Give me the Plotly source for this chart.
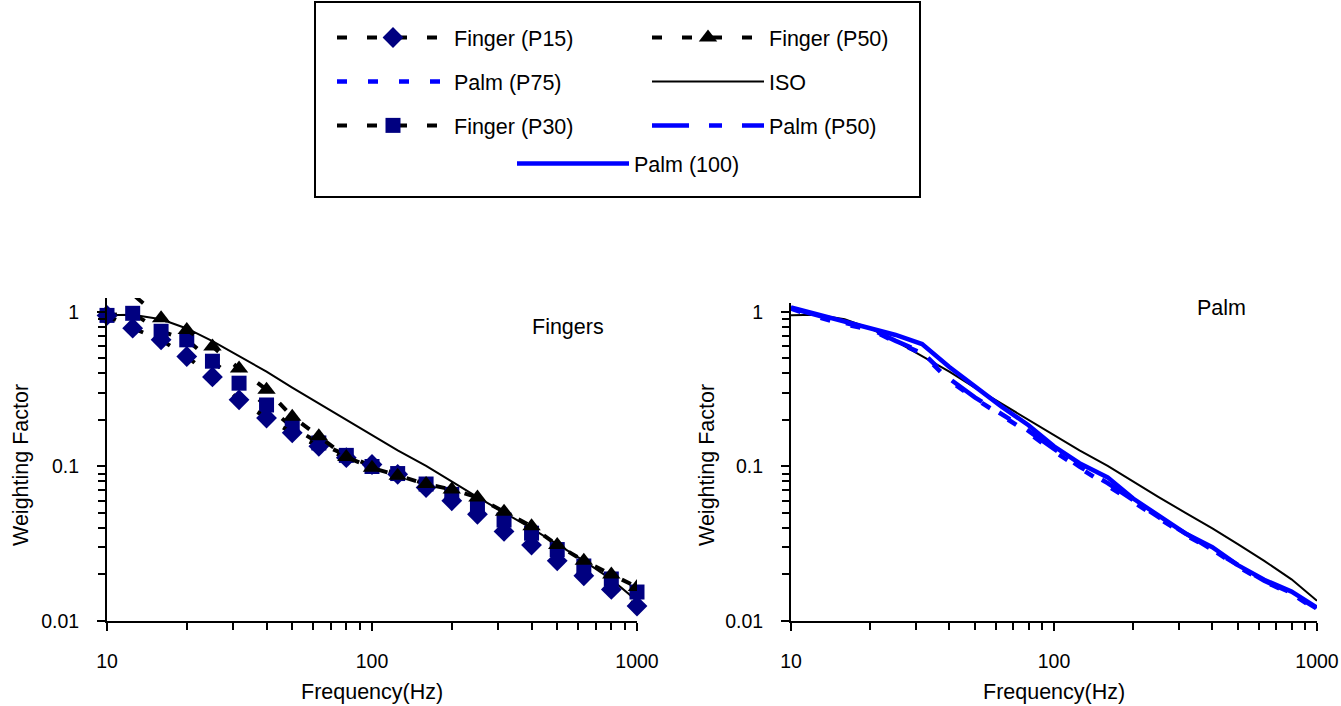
import plotly.graph_objects as go

# ---------------- data ----------------
freqs = [10, 12.5, 16, 20, 25, 31.5, 40, 50, 63, 80, 100, 125, 160, 200, 250, 315, 400, 500, 630, 800, 1000]

iso = [0.951, 0.958, 0.896, 0.782, 0.647, 0.519, 0.411, 0.324, 0.256, 0.202, 0.160,
       0.127, 0.101, 0.0799, 0.0634, 0.0503, 0.0398, 0.0314, 0.0245, 0.0186, 0.0135]

finger_p15 = [0.95, 0.785, 0.66, 0.515, 0.38, 0.27, 0.206, 0.165, 0.135, 0.114, 0.103,
              0.089, 0.073, 0.060, 0.049, 0.038, 0.031, 0.0245, 0.0196, 0.016, 0.0125]
finger_p30 = [0.95, 0.98, 0.75, 0.66, 0.48, 0.346, 0.25, 0.18, 0.142, 0.118, 0.100,
              0.090, 0.077, 0.066, 0.055, 0.045, 0.037, 0.029, 0.0227, 0.0187, 0.0154]
finger_p50 = [1.40, 1.30, 0.91, 0.765, 0.597, 0.43, 0.314, 0.21, 0.157, 0.115, 0.098,
              0.087, 0.077, 0.071, 0.063, 0.051, 0.041, 0.031, 0.0245, 0.020, 0.0166]

palm_p75 = [1.05, 0.93, 0.83, 0.77, 0.64, 0.54, 0.36, 0.275, 0.215, 0.165, 0.125,
            0.098, 0.074, 0.059, 0.046, 0.036, 0.029, 0.0225, 0.018, 0.015, 0.0118]
palm_p50 = [1.06, 0.95, 0.85, 0.78, 0.65, 0.55, 0.37, 0.28, 0.22, 0.17, 0.13,
            0.100, 0.078, 0.060, 0.047, 0.037, 0.029, 0.023, 0.0182, 0.0152, 0.0120]
palm_100 = [1.07, 0.97, 0.87, 0.79, 0.71, 0.62, 0.44, 0.33, 0.245, 0.185, 0.135,
            0.105, 0.085, 0.062, 0.048, 0.037, 0.030, 0.023, 0.0185, 0.0155, 0.0122]

x_ticks = [10, 100, 1000]
x_ticktext = ["10", "100", "1000"]
y_ticks = [0.01, 0.1, 1]
y_ticktext = ["0.01", "0.1", "1"]
x_minor = [20, 30, 40, 50, 60, 70, 80, 90, 200, 300, 400, 500, 600, 700, 800, 900]
y_minor = [0.02, 0.03, 0.04, 0.05, 0.06, 0.07, 0.08, 0.09, 0.2, 0.3, 0.4, 0.5, 0.6, 0.7, 0.8, 0.9]

# ---------------- layout helpers ----------------
W, H = 1341, 706
FONT = "Liberation Sans, Arial, Helvetica, sans-serif"
NAVY = "#000080"
BLUE = "#0000FF"


def px(x):
    return x / W


def py(y):
    return 1 - y / H


fig = go.Figure()

# ---- left panel (fingers) ----
fig.add_trace(go.Scatter(x=freqs, y=iso, mode="lines", name="ISO", legend="legend2",
                         legendgroup="iso", legendrank=2, showlegend=True,
                         line=dict(color="black", width=2), xaxis="x", yaxis="y"))
fig.add_trace(go.Scatter(x=freqs, y=finger_p30, mode="lines+markers", name="Finger (P30)",
                         legend="legend", legendgroup="p30", legendrank=3,
                         line=dict(color="black", width=4, dash="10px,20px"),
                         marker=dict(symbol="square", size=15, color=NAVY),
                         cliponaxis=False, xaxis="x", yaxis="y"))
fig.add_trace(go.Scatter(x=freqs, y=finger_p15, mode="lines+markers", name="Finger (P15)",
                         legend="legend", legendgroup="p15", legendrank=1,
                         line=dict(color="black", width=4, dash="10px,20px"),
                         marker=dict(symbol="diamond", size=16, color=NAVY),
                         cliponaxis=False, xaxis="x", yaxis="y"))
fig.add_trace(go.Scatter(x=freqs, y=finger_p50, mode="lines+markers", name="Finger (P50)",
                         legend="legend2", legendgroup="p50", legendrank=1,
                         line=dict(color="black", width=4, dash="10px,20px"),
                         marker=dict(symbol="triangle-up", size=16, color="black"),
                         cliponaxis=True, xaxis="x", yaxis="y"))

# ---- right panel (palm) ----
fig.add_trace(go.Scatter(x=freqs, y=iso, mode="lines", name="ISO", showlegend=False,
                         line=dict(color="black", width=2), xaxis="x2", yaxis="y2"))
fig.add_trace(go.Scatter(x=freqs, y=palm_p75, mode="lines", name="Palm (P75)",
                         legend="legend", legendgroup="pp75", legendrank=2,
                         line=dict(color=BLUE, width=4.5, dash="10px,21px"),
                         xaxis="x2", yaxis="y2"))
fig.add_trace(go.Scatter(x=freqs, y=palm_p50, mode="lines", name="Palm (P50)",
                         legend="legend2", legendgroup="pp50", legendrank=3,
                         line=dict(color=BLUE, width=4.5, dash="37px,20px,13px,20px"),
                         xaxis="x2", yaxis="y2"))
fig.add_trace(go.Scatter(x=freqs, y=palm_100, mode="lines", name="Palm (100)",
                         legend="legend3", legendgroup="pp100",
                         line=dict(color=BLUE, width=4.5),
                         xaxis="x2", yaxis="y2"))

axis_common = dict(type="log", showline=True, linecolor="black", linewidth=2,
                   showgrid=False, zeroline=False, ticks="outside", ticklen=8,
                   tickwidth=1.5, tickcolor="black", automargin=False,
                   tickfont=dict(family=FONT, size=19.5, color="black"))

xcommon = dict(axis_common, range=[1, 3], tickvals=x_ticks, ticktext=x_ticktext,
               ticklabelstandoff=14,
               minor=dict(tickvals=x_minor, ticks="outside", ticklen=7, tickwidth=1.5,
                          tickcolor="black", showgrid=False))
ycommon = dict(axis_common, tickvals=y_ticks, ticktext=y_ticktext, ticklabelstandoff=14,
               minor=dict(tickvals=y_minor, ticks="outside", ticklen=7, tickwidth=1.5,
                          tickcolor="black", showgrid=False))

top_left = 298
top_right = 303
bottom = 621
l_x0, l_x1 = 107, 637
r_x0, r_x1 = 791, 1317

LEG_FONT = dict(family=FONT, size=21.5, color="black")
IW = 112
TITLE_FONT = dict(family=FONT, size=21.5, color="black")


def label(text, x, y, angle=0):
    return dict(text=text, x=px(x), y=py(y), xref="paper", yref="paper",
                xanchor="center", yanchor="middle", showarrow=False,
                textangle=angle, font=TITLE_FONT)


fig.update_layout(
    width=W, height=H,
    margin=dict(l=0, r=0, t=0, b=0, autoexpand=False),
    paper_bgcolor="white", plot_bgcolor="white",
    font=dict(family=FONT, size=20, color="black"),
    xaxis=dict(xcommon, domain=[px(l_x0), px(l_x1)], anchor="y"),
    yaxis=dict(ycommon, domain=[py(bottom), py(top_left)], anchor="x",
               range=[-2, (312 - top_left) / 155]),
    xaxis2=dict(xcommon, domain=[px(r_x0), px(r_x1)], anchor="y2"),
    yaxis2=dict(ycommon, domain=[py(bottom), py(top_right)], anchor="x2",
                range=[-2, (312 - top_right) / 155]),
    legend=dict(x=px(332), y=py(17), xanchor="left", yanchor="top",
                bgcolor="rgba(0,0,0,0)", borderwidth=0, itemwidth=IW,
                traceorder="grouped", tracegroupgap=13, font=LEG_FONT),
    legend2=dict(x=px(647), y=py(17), xanchor="left", yanchor="top",
                 bgcolor="rgba(0,0,0,0)", borderwidth=0, itemwidth=IW,
                 traceorder="grouped", tracegroupgap=13, font=LEG_FONT),
    legend3=dict(x=px(512), y=py(143), xanchor="left", yanchor="top",
                 bgcolor="rgba(0,0,0,0)", borderwidth=0, itemwidth=IW,
                 font=LEG_FONT),
    shapes=[dict(type="rect", xref="paper", yref="paper",
                 x0=px(315), x1=px(920), y0=py(197), y1=py(2),
                 line=dict(color="black", width=2), fillcolor="rgba(0,0,0,0)")],
    annotations=[
        label("Fingers", 568, 327),
        label("Palm", 1221, 308),
        label("Frequency(Hz)", 372, 692),
        label("Frequency(Hz)", 1054, 692),
        label("Weighting Factor", 21, 465, -90),
        label("Weighting Factor", 707, 465, -90),
    ],
)

fig.write_html("out.html", config={"displayModeBar": False},
               post_script="document.body.style.margin='0';")
